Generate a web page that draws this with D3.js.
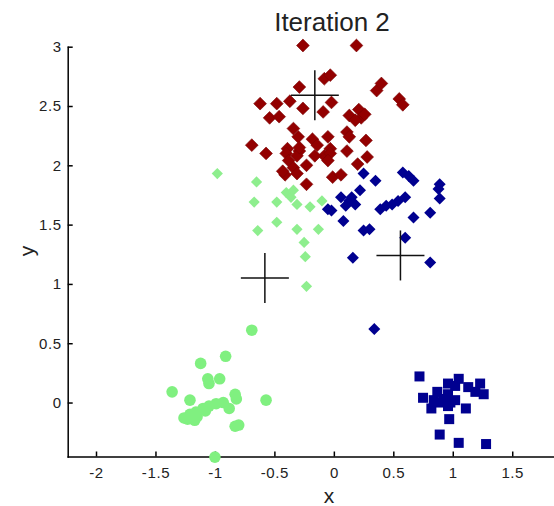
<!DOCTYPE html>
<html lang="en">
<head>
<meta charset="UTF-8">
<title>Iteration 2</title>
<script src="https://d3js.org/d3.v7.min.js"></script>
<style>
  body { margin: 0; background: #fff; }
  svg { display: block; font-family: "Liberation Sans", Arial, sans-serif; }
  .axis path, .axis line { stroke: #000; stroke-width: 1.5; }
  .axis text { font-size: 15px; fill: #222; letter-spacing: 0.6px; }
</style>
</head>
<body>
<div id="chart"></div>
<script>
// cluster points, [x, y]
const redPts = [
  [-0.26,3.01],[0.19,3.01],[-0.08,2.73],[-0.03,2.76],[-0.29,2.66],[0.36,2.63],[0.40,2.69],
  [0.55,2.56],[0.58,2.51],[-0.62,2.52],[-0.48,2.52],[-0.37,2.54],[-0.26,2.48],[-0.02,2.53],
  [-0.09,2.45],[-0.54,2.40],[-0.46,2.41],[0.13,2.42],[0.21,2.47],[0.23,2.40],[0.18,2.38],
  [0.26,2.43],[-0.34,2.31],[-0.30,2.24],[-0.18,2.22],[-0.14,2.17],[-0.05,2.24],[-0.03,2.14],
  [-0.08,2.08],[0.11,2.28],[0.13,2.24],[0.27,2.21],[-0.69,2.17],[-0.57,2.10],[-0.39,2.14],
  [-0.29,2.12],[-0.40,2.10],[-0.31,2.08],[-0.38,2.04],[-0.34,1.98],[-0.41,1.92],[-0.31,1.93],
  [-0.23,2.00],[-0.43,1.95],[-0.23,1.84],[-0.16,2.08],[-0.03,2.10],[0.11,2.12],[0.28,2.07],
  [0.20,2.01],[-0.01,1.90],[0.06,1.92],[-0.05,2.04],[-0.29,2.15]
];
const bluePts = [
  [0.25,1.93],[0.35,1.87],[0.58,1.94],[0.63,1.91],[0.67,1.87],[0.89,1.84],[0.88,1.80],
  [0.22,1.79],[0.06,1.73],[0.13,1.70],[0.18,1.67],[0.10,1.66],[0.15,1.73],[-0.05,1.63],
  [-0.02,1.62],[0.39,1.63],[0.44,1.66],[0.49,1.67],[0.54,1.70],[0.60,1.73],[0.89,1.72],
  [0.81,1.60],[0.67,1.56],[0.08,1.53],[0.25,1.45],[0.30,1.46],[0.60,1.39],[0.16,1.22],
  [0.81,1.18],[0.34,0.62]
];
const greenDiaPts = [
  [-0.98,1.93],[-0.65,1.86],[-0.67,1.69],[-0.48,1.69],[-0.40,1.77],[-0.36,1.73],[-0.31,1.67],
  [-0.34,1.79],[-0.20,1.65],[-0.10,1.70],[-0.64,1.45],[-0.48,1.52],[-0.31,1.46],[-0.13,1.46],
  [-0.25,1.35],[-0.24,1.23],[-0.23,0.98]
];
const greenDotPts = [
  [-0.69,0.61],[-0.91,0.39],[-1.12,0.33],[-1.06,0.20],[-0.96,0.20],[-1.05,0.16],[-1.36,0.09],
  [-1.21,0.02],[-0.83,0.07],[-0.82,0.03],[-0.57,0.02],[-1.26,-0.13],[-1.21,-0.10],[-1.16,-0.08],
  [-1.10,-0.05],[-1.05,-0.03],[-0.99,-0.01],[-0.93,0.00],[-0.88,-0.05],[-1.17,-0.15],
  [-1.23,-0.14],[-0.83,-0.20],[-0.80,-0.19],[-1.00,-0.46],[-1.15,-0.12],[-1.08,-0.07]
];
const squarePts = [
  [0.72,0.22],[0.96,0.16],[1.05,0.20],[1.02,0.14],[1.13,0.13],[1.23,0.16],[1.19,0.09],
  [1.26,0.07],[0.87,0.09],[0.75,0.04],[0.84,0.02],[0.92,0.03],[0.96,0.07],[0.98,0.00],
  [1.02,0.02],[0.89,0.00],[0.82,-0.05],[0.96,-0.03],[1.11,-0.05],[0.97,-0.14],[0.89,-0.27],
  [1.05,-0.34],[1.28,-0.35]
];
const centroids = [[-0.16,2.59],[0.56,1.24],[-0.58,1.05]];

const xTicks = [-2, -1.5, -1, -0.5, 0, 0.5, 1, 1.5];
const xTickLabels = ["-2", "-1.5", "-1", "-0.5", "0", "0.5", "1", "1.5"];
const yTicks = [0, 0.5, 1, 1.5, 2, 2.5, 3];
const yTickLabels = ["0", "0.5", "1", "1.5", "2", "2.5", "3"];

const width = 554, height = 506;

const svg = d3.select("#chart").append("svg")
  .attr("width", width)
  .attr("height", height);

// soft edges like the jpeg
svg.append("defs").append("filter").attr("id", "soft")
  .append("feGaussianBlur").attr("stdDeviation", 0.6);

const x = d3.scaleLinear().domain([-2.238, 2.238]).range([67.7, 600]);
const y = d3.scaleLinear().domain([-0.455, 3]).range([456.5, 46.7]);

svg.append("g")
  .attr("class", "axis")
  .attr("transform", `translate(0,${y(-0.455)})`)
  .call(d3.axisBottom(x).tickValues(xTicks)
    .tickFormat((d, i) => xTickLabels[i])
    .tickSizeInner(-5).tickSizeOuter(0).tickPadding(11));

svg.append("g")
  .attr("class", "axis")
  .attr("transform", `translate(${x(-2.238)},0)`)
  .call(d3.axisLeft(y).tickValues(yTicks)
    .tickFormat((d, i) => yTickLabels[i])
    .tickSizeInner(-5).tickSizeOuter(0).tickPadding(6));

svg.selectAll(".axis .domain").attr("stroke-linecap", "square");

// title and labels
svg.append("text")
  .attr("x", 332).attr("y", 31)
  .attr("text-anchor", "middle")
  .attr("font-size", 26).attr("fill", "#222")
  .text("Iteration 2");

svg.append("text")
  .attr("x", 329).attr("y", 503)
  .attr("text-anchor", "middle")
  .attr("font-size", 21).attr("fill", "#222")
  .text("x");

svg.append("text")
  .attr("transform", "translate(34,251) rotate(-90)")
  .attr("text-anchor", "middle")
  .attr("font-size", 21).attr("fill", "#222")
  .text("y");

const marks = svg.append("g").attr("filter", "url(#soft)");

const diamond = r => `M0,${-r}L${r},0L0,${r}L${-r},0Z`;

marks.selectAll(".gdot").data(greenDotPts).enter().append("circle")
  .attr("class", "gdot")
  .attr("cx", d => x(d[0])).attr("cy", d => y(d[1]))
  .attr("r", 5.8)
  .attr("fill", "#80f080");

marks.selectAll(".gdia").data(greenDiaPts).enter().append("path")
  .attr("class", "gdia")
  .attr("transform", d => `translate(${x(d[0])},${y(d[1])})`)
  .attr("d", diamond(5.6))
  .attr("fill", "#8eee8e");

marks.selectAll(".red").data(redPts).enter().append("path")
  .attr("class", "red")
  .attr("transform", d => `translate(${x(d[0])},${y(d[1])})`)
  .attr("d", diamond(6.4))
  .attr("fill", "#930000")
  .attr("stroke", "#7a0000").attr("stroke-width", 0.6);

marks.selectAll(".blue").data(bluePts).enter().append("path")
  .attr("class", "blue")
  .attr("transform", d => `translate(${x(d[0])},${y(d[1])})`)
  .attr("d", diamond(6))
  .attr("fill", "#000090");

marks.selectAll(".sq").data(squarePts).enter().append("rect")
  .attr("class", "sq")
  .attr("x", d => x(d[0]) - 5).attr("y", d => y(d[1]) - 5)
  .attr("width", 10).attr("height", 10)
  .attr("fill", "#000090");

// centroids
const cross = svg.append("g").attr("stroke", "#111").attr("stroke-width", 1.5);
centroids.forEach(c => {
  cross.append("line")
    .attr("x1", x(c[0]) - 24).attr("x2", x(c[0]) + 24)
    .attr("y1", y(c[1])).attr("y2", y(c[1]));
  cross.append("line")
    .attr("x1", x(c[0])).attr("x2", x(c[0]))
    .attr("y1", y(c[1]) - 25).attr("y2", y(c[1]) + 25);
});
</script>
</body>
</html>
